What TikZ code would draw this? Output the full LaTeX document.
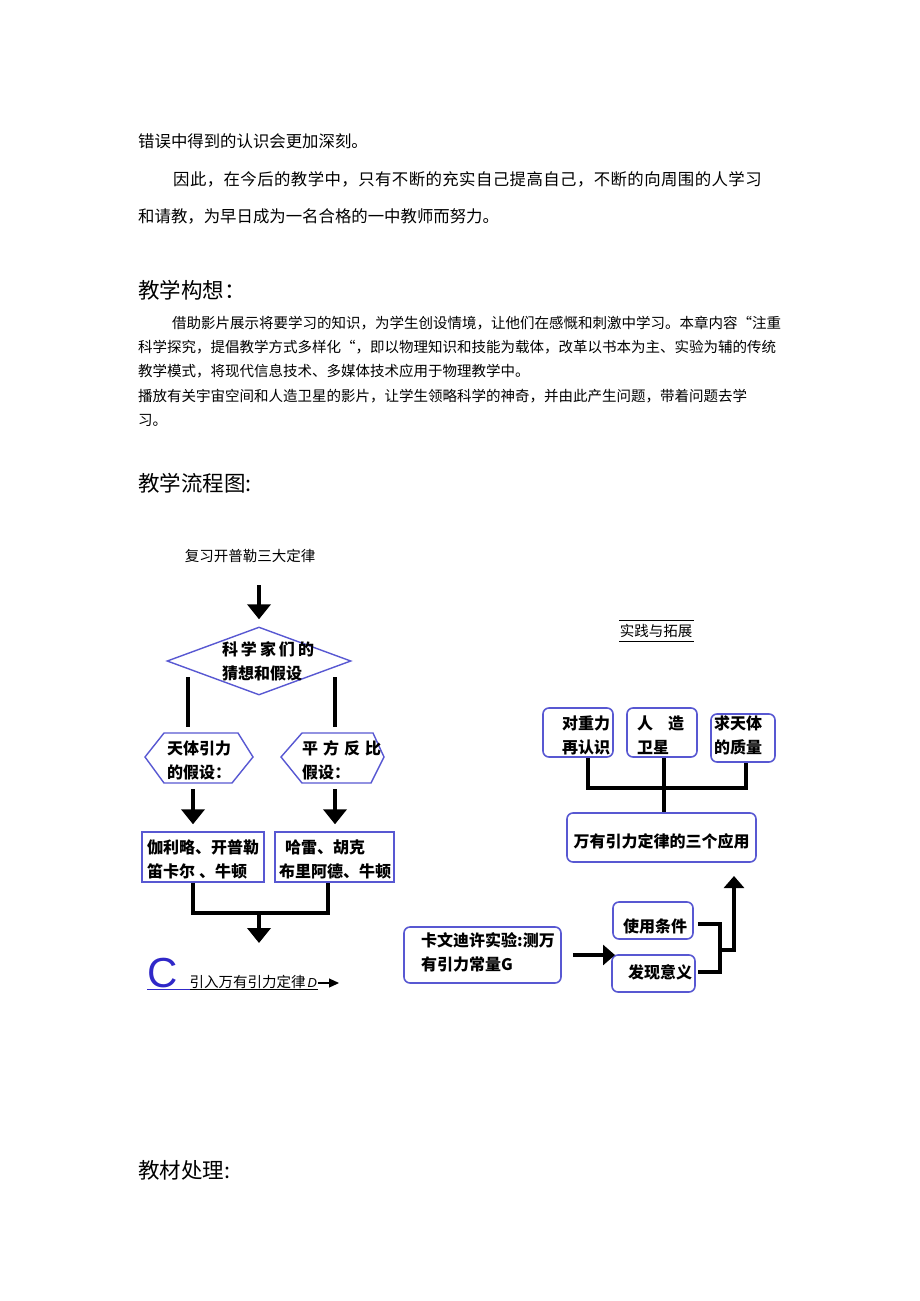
\documentclass[tikz,border=0pt]{standalone}
\usepackage{fontspec}
\setmainfont{Liberation Sans}
\newfontfamily\cjk{Noto Sans CJK SC}
\usetikzlibrary{arrows.meta,shapes.geometric,calc}
\definecolor{boxblue}{RGB}{88,88,210}
\definecolor{cblue}{RGB}{48,40,200}
\begin{document}
\begin{tikzpicture}[x=1pt,y=-1pt,
  body/.style={font=\cjk\fontsize{16.4}{20}\selectfont, anchor=west, inner sep=0pt},
  head/.style={font=\cjk\fontsize{21.5}{24}\selectfont, anchor=west, inner sep=0pt},
  small/.style={font=\cjk\fontsize{14.5}{18}\selectfont, anchor=west, inner sep=0pt},
  plain/.style={font=\cjk\fontsize{14.5}{18}\selectfont, inner sep=0pt},
  lab/.style={font=\cjk\bfseries\fontsize{16}{24}\selectfont, inner sep=0pt, align=left},
  bbox/.style={draw=boxblue, line width=1.4pt},
  rbox/.style={draw=boxblue, line width=1.6pt, rounded corners=6pt},
  conn/.style={line width=4pt, line join=miter},
  bigarrow/.style={line width=4.5pt, -{Triangle[width=23pt,length=15pt]}},
  bigarrowb/.style={line width=4pt, -{Triangle[width=20pt,length=12pt]}}]
\useasboundingbox (0,0) rectangle (920,1301);
\fill[white] (0,0) rectangle (920,1301);

% ---------- text ----------
\node[body] (p1) at (138,141) {错误中得到的认识会更加深刻。};
\node[body] (p2) at (173,179) {\addfontfeature{LetterSpace=2.6}因此，在今后的教学中，只有不断的充实自己提高自己，不断的向周围的人学习};
\node[body] (p3) at (138,216) {和请教，为早日成为一名合格的一中教师而努力。};
\node[head] (h1) at (138,290) {教学构想：};
\node[small] (q1) at (172,323) {借助影片展示将要学习的知识，为学生创设情境，让他们在感慨和刺激中学习。本章内容“注重};
\node[small] (q2) at (138,347) {科学探究，提倡教学方式多样化“，即以物理知识和技能为载体，改革以书本为主、实验为辅的传统};
\node[small] (q3) at (138,371) {教学模式，将现代信息技术、多媒体技术应用于物理教学中。};
\node[small] (q4) at (138,396) {播放有关宇宙空间和人造卫星的影片，让学生领略科学的神奇，并由此产生问题，带着问题去学};
\node[small] (q5) at (138,420) {习。};
\node[head] (h2) at (138,483) {教学流程图:};
\node[head] (h3) at (138,1170) {教材处理:};

% ---------- left flow ----------
\node[plain] (t0) at (250,556) {复习开普勒三大定律};
\coordinate (a1s) at (259,585);
\node[diamond, bbox, minimum width=184pt, minimum height=68pt, inner sep=0pt] (dia) at (259,661) {};
\node[lab] (diat) at (268,661) {科\kern3pt学\kern3pt家\kern3pt们\kern3pt的\\猜想和假设};
\draw[bigarrow, shorten >=7pt] (a1s) -- (dia.north);

\draw[bbox] (145,757) -- (164,733) -- (238,733) -- (253,757) -- (232,783) -- (164,783) -- cycle;
\draw[bbox] (281,757) -- (302,733) -- (373,733) -- (384,757) -- (371,783) -- (302,783) -- cycle;
\node[lab, anchor=west] (hexL) at (167,760) {天体引力\\的假设：};
\node[lab, anchor=west] (hexR) at (302,760) {平\kern5pt方\kern5pt反\kern5pt比\\假设：};

\coordinate (v1s) at (188,677);
\coordinate (v1e) at (188,727);
\coordinate (v2s) at (335,677);
\coordinate (v2e) at (335,727);
\draw[conn] (v1s) -- (v1e);
\draw[conn] (v2s) -- (v2e);

\node[bbox, minimum width=122pt, minimum height=50pt, inner sep=0pt] (boxL) at (203,857) {};
\node[bbox, minimum width=119pt, minimum height=50pt, inner sep=0pt] (boxR) at (334.5,857) {};
\node[lab] (boxLt) at (203,859) {伽利略、开普勒\\笛卡尔\kern4pt、牛顿};
\node[lab] (boxRt) at (335,859) {\hspace*{6pt}哈雷、胡克\\布里阿德、牛顿};

\coordinate (a2s) at (193,789);
\coordinate (a3s) at (335,789);
\draw[bigarrow, shorten >=7pt] (a2s) -- (a2s |- boxL.north);
\draw[bigarrow, shorten >=7pt] (a3s) -- (a3s |- boxR.north);

\coordinate (j1) at (193,913);
\coordinate (j2) at (328,913);
\coordinate (j3) at (259,911);
\draw[conn] (j1 |- boxL.south) -- (j1) -- (j2) -- (j2 |- boxR.south);

\node[anchor=base west, inner sep=0pt] (lead) at (147,987)
  {{\color{cblue}\fontsize{42}{42}\selectfont C}\hspace{12pt}{\cjk\fontsize{14.5}{16}\selectfont 引入万有引力定律}\hspace{2pt}{\itshape\fontsize{13}{14}\selectfont D}};
\coordinate (j4) at (259,943);
\draw[bigarrow] (j3) -- (j4);
\draw[cblue, line width=1pt] (147,989) -- (190,989);
\draw[line width=1pt] (190,989) -- (318,989);
\coordinate (dtip) at (339,983);
\draw[line width=1.2pt, -{Triangle[width=9pt,length=10pt]}] ($(lead.base east)+(0.5,-4)$) -- (dtip);

% ---------- right flow ----------
\node[plain] (sj) at (656,631) {实践与拓展};
\draw[line width=1pt] (619,620) -- (694,620);
\draw[line width=1pt] (619,641) -- (694,641);

\node[rbox, minimum width=70pt, minimum height=49pt, inner sep=0pt] (b1) at (578,732.5) {};
\node[rbox, minimum width=70pt, minimum height=49pt, inner sep=0pt] (b2) at (662,732.5) {};
\node[rbox, minimum width=64pt, minimum height=48pt, inner sep=0pt] (b3) at (743,738) {};
\node[lab] (b1t) at (586,735) {对重力\\再认识};
\node[lab, anchor=west] (b2t) at (637,735) {人\hspace{15pt}造\\卫星};
\node[lab] (b3t) at (738,735) {求天体\\的质量};

\node[rbox, minimum width=189pt, minimum height=49pt, inner sep=0pt] (app) at (661.5,837.5) {};
\node[lab] (appt) at (661.5,841) {万有引力定律的三个应用};

\coordinate (h1c) at (588,788);
\coordinate (h2c) at (664,788);
\coordinate (h3c) at (746,788);
\draw[conn] (h1c |- b1.south) -- (h1c) -- (h3c) -- (h3c |- b3.south);
\draw[conn] (h2c |- b2.south) -- (h2c |- app.north);

\node[rbox, minimum width=157pt, minimum height=56pt, inner sep=0pt] (cav) at (482.5,955) {};
\node[lab, anchor=west] (cavt) at (421,952) {卡文迪许实验:测万\\有引力常量G};

\node[rbox, minimum width=80pt, minimum height=37pt, inner sep=0pt] (use) at (653,920.5) {};
\node[lab] (uset) at (655,926) {使用条件};
\node[rbox, minimum width=83pt, minimum height=37pt, inner sep=0pt] (fx) at (653.5,973.5) {};
\node[lab] (fxt) at (660,972) {发现意义};

\coordinate (cavtip) at (615,955);
\draw[bigarrowb, shorten <=11pt] (cav.east) -- (cavtip);

\coordinate (k1) at (720,924);
\coordinate (k2) at (720,972);
\coordinate (k3) at (720,950);
\coordinate (k4) at (734,950);
\coordinate (k5) at (734,876);
\draw[conn] ($(k1 -| use.east)+(4,0)$) -- (k1) -- (k2) -- ($(k2 -| fx.east)+(2,0)$);
\draw[bigarrowb] (k3) -- (k4) -- (k5);
\end{tikzpicture}
\end{document}
